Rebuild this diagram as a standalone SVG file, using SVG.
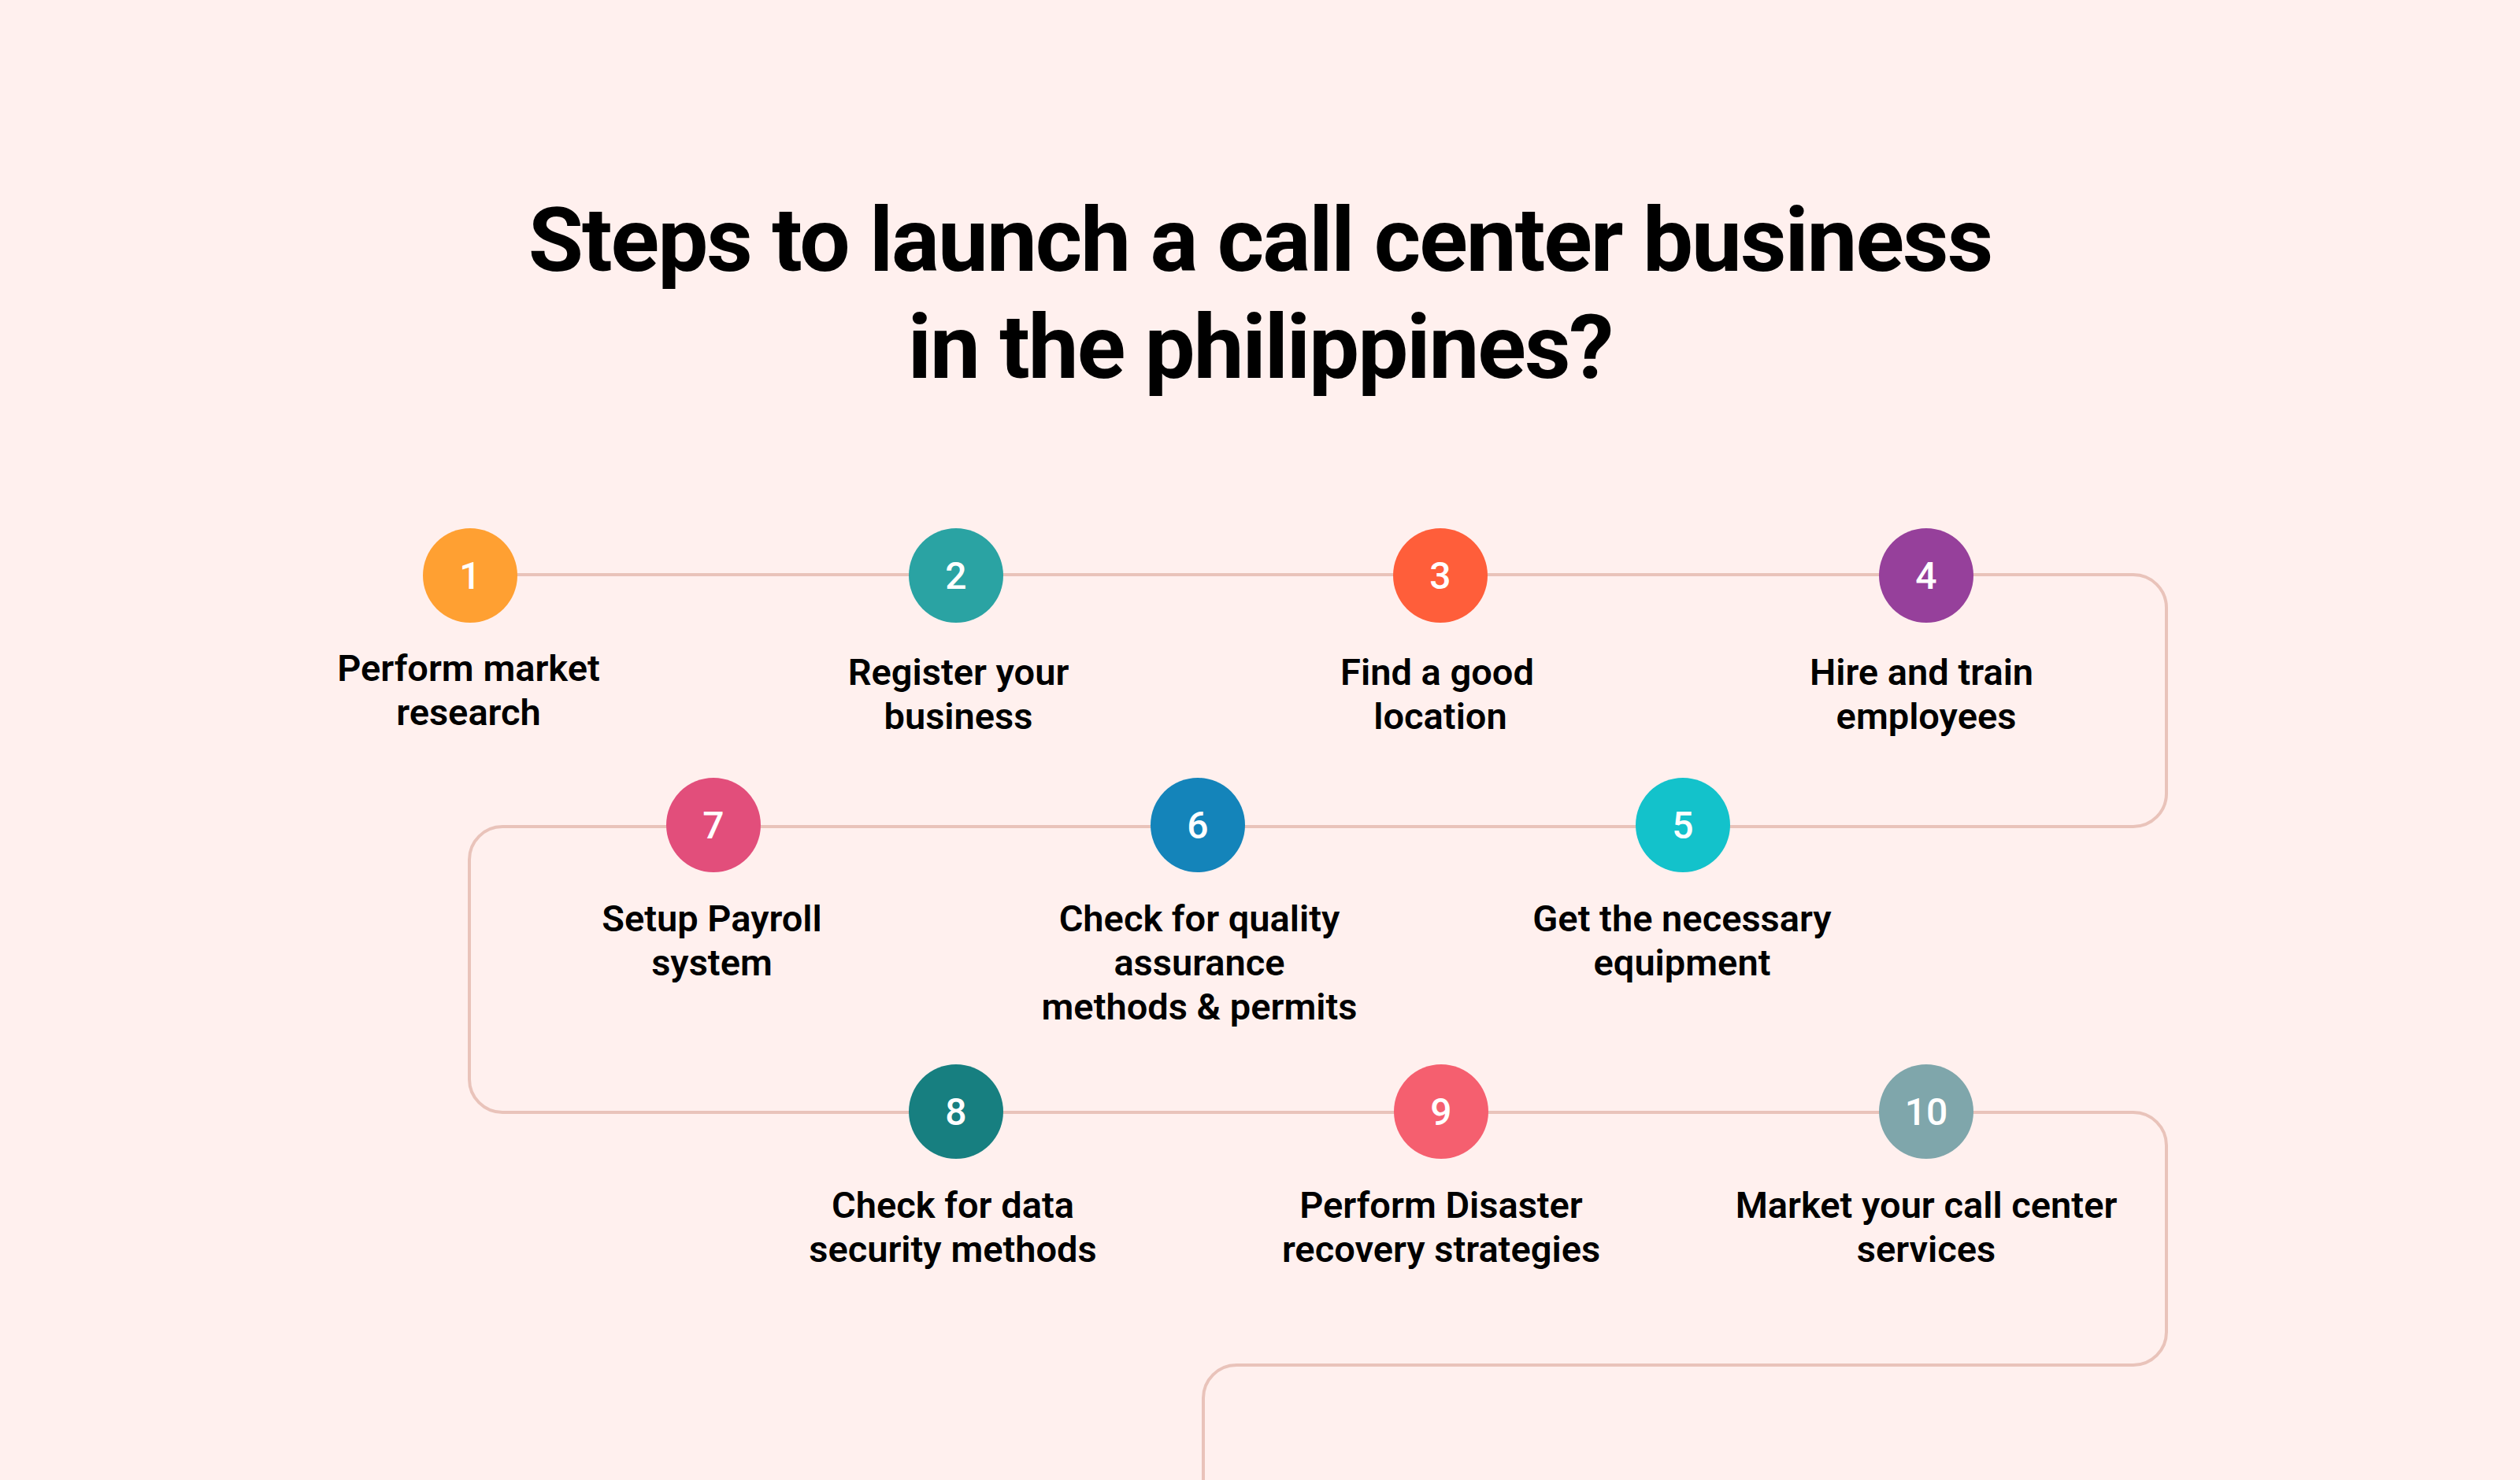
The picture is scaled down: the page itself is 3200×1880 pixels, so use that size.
<svg xmlns="http://www.w3.org/2000/svg" width="3200" height="1880" viewBox="0 0 3200 1880">
<style>
.title{font-family:Roboto,"Liberation Sans",sans-serif;font-weight:700;font-size:114px;letter-spacing:-2px;fill:#000;text-anchor:middle}
.num{font-family:Roboto,"Liberation Sans",sans-serif;font-weight:500;font-size:48px;fill:#fff;text-anchor:middle}
.lbl{font-family:Roboto,"Liberation Sans",sans-serif;font-weight:600;font-size:47px;fill:#000;text-anchor:middle}
.conn{fill:none;stroke:#E9C3BA;stroke-width:4}
</style>
<rect width="3200" height="1880" fill="#FFF0EE"/>
<g id="title">
<text class="title" x="1600" y="344">Steps to launch a call center business</text>
<text class="title" x="1600" y="480">in the philippines?</text>
</g>
<g id="connectors">
<path class="conn" d="M596 730 H2709 A42 42 0 0 1 2751 772 V1008 A42 42 0 0 1 2709 1050 H638 A42 42 0 0 0 596 1092 V1371 A42 42 0 0 0 638 1413 H2709 A42 42 0 0 1 2751 1455 V1692 A42 42 0 0 1 2709 1734 H1570 A42 42 0 0 0 1528 1776 V1880"/>
</g>
<g id="step1"><circle cx="597" cy="731" r="60" fill="#FFA032"/><text class="num" x="597" y="748">1</text>
<text class="lbl" x="595" y="865">Perform market</text><text class="lbl" x="595" y="921">research</text></g>
<g id="step2"><circle cx="1214" cy="731" r="60" fill="#2AA3A3"/><text class="num" x="1214" y="748">2</text>
<text class="lbl" x="1217" y="870">Register your</text><text class="lbl" x="1217" y="926">business</text></g>
<g id="step3"><circle cx="1829" cy="731" r="60" fill="#FF5E3A"/><text class="num" x="1829" y="748">3</text>
<text class="lbl" x="1825" y="870">Find a good</text><text class="lbl" x="1829" y="926">location</text></g>
<g id="step4"><circle cx="2446" cy="731" r="60" fill="#96409B"/><text class="num" x="2446" y="748">4</text>
<text class="lbl" x="2440" y="870">Hire and train</text><text class="lbl" x="2446" y="926">employees</text></g>
<g id="step5"><circle cx="2137" cy="1048" r="60" fill="#13C2CB"/><text class="num" x="2137" y="1065">5</text>
<text class="lbl" x="2136" y="1183">Get the necessary</text><text class="lbl" x="2136" y="1239">equipment</text></g>
<g id="step6"><circle cx="1521" cy="1048" r="60" fill="#1484BA"/><text class="num" x="1521" y="1065">6</text>
<text class="lbl" x="1523" y="1183">Check for quality</text><text class="lbl" x="1523" y="1239">assurance</text><text class="lbl" x="1523" y="1295">methods &amp; permits</text></g>
<g id="step7"><circle cx="906" cy="1048" r="60" fill="#E24E7B"/><text class="num" x="906" y="1065">7</text>
<text class="lbl" x="904" y="1183">Setup Payroll</text><text class="lbl" x="904" y="1239">system</text></g>
<g id="step8"><circle cx="1214" cy="1412" r="60" fill="#177F80"/><text class="num" x="1214" y="1429">8</text>
<text class="lbl" x="1210" y="1547">Check for data</text><text class="lbl" x="1210" y="1603">security methods</text></g>
<g id="step9"><circle cx="1830" cy="1412" r="60" fill="#F55F6F"/><text class="num" x="1830" y="1429">9</text>
<text class="lbl" x="1830" y="1547">Perform Disaster</text><text class="lbl" x="1830" y="1603">recovery strategies</text></g>
<g id="step10"><circle cx="2446" cy="1412" r="60" fill="#7FA6AB"/><text class="num" x="2446" y="1429">10</text>
<text class="lbl" x="2446" y="1547">Market your call center</text><text class="lbl" x="2446" y="1603">services</text></g>
</svg>
